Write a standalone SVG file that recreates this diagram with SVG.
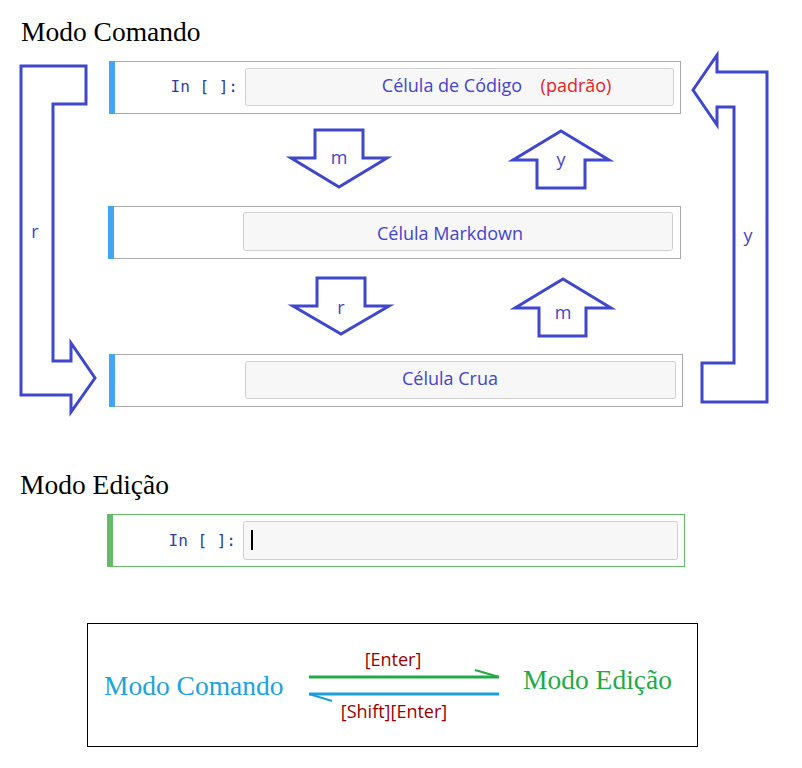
<svg xmlns="http://www.w3.org/2000/svg" width="802" height="768" viewBox="0 0 802 768">
<style>
.title{font-family:"Liberation Serif","Times New Roman",serif;font-size:27.5px;}
.cell{fill:#fff;stroke:#ababab;stroke-width:1;}
.ecell{fill:#fff;stroke:#66bb6a;stroke-width:1;}
.inp{fill:#f7f7f7;stroke:#cfcfcf;stroke-width:1;}
.lbl{font-family:"Open Sans","DejaVu Sans",sans-serif;font-size:18px;fill:#4444cc;}
.prompt{font-family:"DejaVu Sans Mono","Liberation Mono",monospace;font-size:16px;fill:#303f9f;}
.arr{fill:#fff;stroke:#3f48cc;stroke-width:3;stroke-linejoin:miter;}
.key{font-family:"Open Sans","Liberation Sans",sans-serif;font-size:18px;fill:#990000;}
</style>
<rect width="802" height="768" fill="#fff"/>
<text class="title" x="21" y="41">Modo Comando</text>
<text class="title" x="20" y="494">Modo Edição</text>

<g id="connectors">
<polygon class="arr" points="21,66 86,66 86,104 53,104 53,361 71,361 71,343 95,378 71,412 71,395 21,395"/>
<text class="lbl" x="35" y="238" text-anchor="middle">r</text>
<polygon class="arr" points="693,90 717,55 717,72 767,72 767,402 702,402 702,363 734,363 734,107 717,107 717,125"/>
<text class="lbl" x="748" y="242" text-anchor="middle">y</text>
<polygon class="arr" points="315,130 363,130 363,158 387,158 339,187 291,158 315,158"/>
<text class="lbl" x="339" y="164" text-anchor="middle">m</text>
<polygon class="arr" points="561,131 609,160 585,160 585,188 537,188 537,160 513,160"/>
<text class="lbl" x="561" y="166" text-anchor="middle">y</text>
<polygon class="arr" points="317,278 365,278 365,306 389,306 341,334 293,306 317,306"/>
<text class="lbl" x="341" y="314" text-anchor="middle">r</text>
<polygon class="arr" points="563,279 611,308 586,308 586,336 539,336 539,308 515,308"/>
<text class="lbl" x="563" y="319" text-anchor="middle">m</text>
</g>

<g id="cell-code">
<rect class="cell" x="109.5" y="61.5" width="571" height="52"/>
<rect x="109" y="61" width="6" height="53" fill="#42a5f5"/>
<text class="prompt" x="238" y="92" text-anchor="end" xml:space="preserve">In [ ]:</text>
<rect class="inp" x="245.5" y="68.5" width="428" height="37" rx="2"/>
<text class="lbl" x="452" y="92" text-anchor="middle">Célula de Código</text>
<text class="lbl" x="576" y="92" text-anchor="middle" style="fill:#ee2222">(padrão)</text>
</g>

<g id="cell-markdown">
<rect class="cell" x="108.5" y="206.5" width="572" height="52"/>
<rect x="108" y="206" width="6" height="53" fill="#42a5f5"/>
<rect class="inp" x="243.5" y="212.5" width="429" height="38" rx="2"/>
<text class="lbl" x="450" y="240" text-anchor="middle">Célula Markdown</text>
</g>

<g id="cell-raw">
<rect class="cell" x="109.5" y="354.5" width="573" height="52"/>
<rect x="109" y="354" width="6" height="53" fill="#42a5f5"/>
<rect class="inp" x="245.5" y="361.5" width="430" height="37" rx="2"/>
<text class="lbl" x="450" y="385" text-anchor="middle">Célula Crua</text>
</g>

<g id="cell-edit">
<rect class="ecell" x="107.5" y="514.5" width="577" height="52"/>
<rect x="107" y="514" width="6" height="53" fill="#66bb6a"/>
<text class="prompt" x="236" y="546" text-anchor="end" xml:space="preserve">In [ ]:</text>
<rect class="inp" x="243.5" y="521.5" width="434" height="38" rx="2"/>
<rect x="251" y="530" width="2" height="20" fill="#000"/>
</g>

<g id="legend">
<rect x="87.5" y="623.5" width="610" height="123" fill="#fff" stroke="#000" stroke-width="1"/>
<text class="title" x="104" y="695" style="fill:#1aa3e0">Modo Comando</text>
<text class="title" x="523" y="689" style="fill:#22aa44">Modo Edição</text>
<line x1="309" y1="677" x2="499" y2="677" stroke="#22aa44" stroke-width="3"/>
<line x1="499" y1="677" x2="475" y2="670" stroke="#22aa44" stroke-width="2"/>
<line x1="309" y1="694" x2="499" y2="694" stroke="#1a9fe0" stroke-width="3"/>
<line x1="309" y1="694" x2="332" y2="701" stroke="#1a9fe0" stroke-width="2"/>
<text class="key" x="393" y="666" text-anchor="middle">[Enter]</text>
<text class="key" x="394" y="718" text-anchor="middle">[Shift][Enter]</text>
</g>
</svg>
